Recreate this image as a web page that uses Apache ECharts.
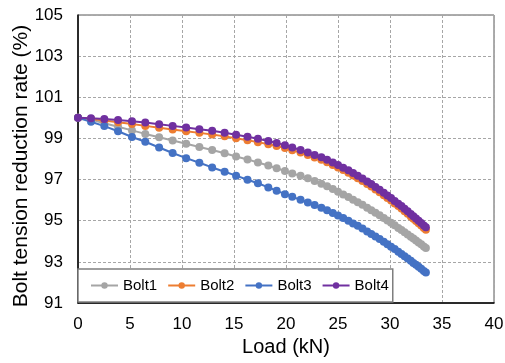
<!DOCTYPE html>
<html>
<head>
<meta charset="utf-8">
<script src="https://cdn.jsdelivr.net/npm/echarts@6/dist/echarts.min.js"></script>
<style>
  html, body { margin: 0; padding: 0; background: #fff; }
  #chart { width: 505px; height: 363px; }
</style>
</head>
<body>
<div id="chart"></div>
<script>
// Load steps (kN) shared by all bolts
const loadKN = [0, 1.25, 2.53, 3.85, 5.19, 6.47, 7.8, 9.1, 10.4, 11.67, 12.9, 14.1, 15.2, 16.3, 17.3,
  18.3, 19.1, 19.9, 20.6, 21.4, 22.1, 22.75, 23.4, 23.95, 24.5, 25.0, 25.5, 26.0, 26.45, 26.9,
  27.35, 27.8, 28.2, 28.6, 29.0, 29.4, 29.75, 30.1, 30.45, 30.8, 31.1, 31.4, 31.7, 32.0, 32.25,
  32.5, 32.75, 33.0, 33.25, 33.45];

// Bolt tension reduction rate (%)
const bolt1 = [100, 99.92, 99.74, 99.57, 99.39, 99.22, 99.06, 98.90, 98.74, 98.58, 98.44, 98.28, 98.12, 97.98, 97.83,
  97.68, 97.55, 97.42, 97.30, 97.18, 97.06, 96.93, 96.80, 96.67, 96.54, 96.41, 96.28, 96.15, 96.02, 95.90,
  95.77, 95.63, 95.51, 95.39, 95.26, 95.13, 95.01, 94.90, 94.78, 94.65, 94.55, 94.44, 94.33, 94.22, 94.13,
  94.04, 93.94, 93.85, 93.75, 93.67];
const bolt2 = [100, 99.95, 99.87, 99.79, 99.70, 99.61, 99.52, 99.43, 99.35, 99.27, 99.19, 99.10, 99.01, 98.91, 98.82,
  98.72, 98.63, 98.53, 98.42, 98.31, 98.19, 98.07, 97.96, 97.84, 97.71, 97.59, 97.46, 97.33, 97.20, 97.07,
  96.93, 96.79, 96.66, 96.52, 96.38, 96.24, 96.11, 95.98, 95.84, 95.71, 95.59, 95.46, 95.34, 95.21, 95.10,
  94.99, 94.88, 94.77, 94.65, 94.56];
const bolt3 = [100, 99.81, 99.60, 99.35, 99.07, 98.84, 98.56, 98.29, 98.04, 97.82, 97.59, 97.38, 97.19, 96.99, 96.82,
  96.62, 96.46, 96.29, 96.16, 96.02, 95.89, 95.76, 95.63, 95.51, 95.38, 95.25, 95.13, 95.00, 94.87, 94.75,
  94.62, 94.48, 94.36, 94.23, 94.11, 93.98, 93.86, 93.74, 93.62, 93.49, 93.38, 93.27, 93.16, 93.05, 92.95,
  92.86, 92.76, 92.66, 92.56, 92.48];
const bolt4 = [100, 99.98, 99.94, 99.90, 99.84, 99.77, 99.69, 99.61, 99.53, 99.45, 99.37, 99.28, 99.18, 99.08, 98.98,
  98.88, 98.78, 98.67, 98.56, 98.44, 98.32, 98.20, 98.08, 97.96, 97.83, 97.71, 97.58, 97.45, 97.32, 97.19,
  97.05, 96.91, 96.78, 96.64, 96.50, 96.36, 96.23, 96.10, 95.96, 95.83, 95.71, 95.58, 95.46, 95.33, 95.22,
  95.11, 95.00, 94.89, 94.77, 94.68];

const seriesNames = ['Bolt1', 'Bolt2', 'Bolt3', 'Bolt4'];
const seriesColors = ['#A5A5A5', '#ED7D31', '#4472C4', '#7030A0'];
const seriesValues = [bolt1, bolt2, bolt3, bolt4];

const FONT = 'Liberation Sans, Arial, sans-serif';

const chart = echarts.init(document.getElementById('chart'), null, { renderer: 'canvas' });

chart.setOption({
  animation: false,
  backgroundColor: '#fff',
  grid: {
    left: 78, right: 11, top: 15, bottom: 60,
    outerBoundsMode: 'none',
    show: true, borderColor: '#595959', borderWidth: 1
  },
  legend: {
    left: 78, top: 269,
    padding: [9, 4, 9, 12],
    itemGap: 10,
    itemWidth: 27,
    itemHeight: 8,
    backgroundColor: '#fff',
    borderColor: '#7f7f7f',
    borderWidth: 1.5,
    textStyle: { fontFamily: FONT, fontSize: 15, color: '#000' },
    data: seriesNames
  },
  xAxis: {
    type: 'value', min: 0, max: 40, interval: 5,
    name: 'Load (kN)', nameLocation: 'middle', nameGap: 34,
    nameMoveOverlap: false,
    nameTextStyle: { fontFamily: FONT, fontSize: 20, color: '#000' },
    axisLine: { show: true, lineStyle: { color: '#000', width: 1.5 } },
    axisTick: { show: false },
    axisLabel: { fontFamily: FONT, fontSize: 17, color: '#000', margin: 13 },
    splitLine: { show: true, lineStyle: { color: '#a6a6a6', type: [3, 2], width: 1 } }
  },
  yAxis: {
    type: 'value', min: 91, max: 105, interval: 2,
    name: 'Bolt tension reduction rate (%)', nameLocation: 'middle', nameGap: 46,
    nameMoveOverlap: false,
    nameTextStyle: { fontFamily: FONT, fontSize: 21, color: '#000', padding: [0, 14, 0, 0] },
    axisLine: { show: true, lineStyle: { color: '#000', width: 1.5 } },
    axisTick: { show: false },
    axisLabel: { fontFamily: FONT, fontSize: 17, color: '#000', margin: 15 },
    splitLine: { show: true, lineStyle: { color: '#a6a6a6', type: [3, 2], width: 1 } }
  },
  series: seriesNames.map((name, k) => ({
    name: name,
    type: 'line',
    data: loadKN.map((x, i) => [x, seriesValues[k][i]]),
    symbol: 'circle',
    symbolSize: 8,
    showAllSymbol: true,
    color: seriesColors[k],
    lineStyle: { width: 2, color: seriesColors[k] },
    itemStyle: { color: seriesColors[k] }
  }))
});
</script>
</body>
</html>
